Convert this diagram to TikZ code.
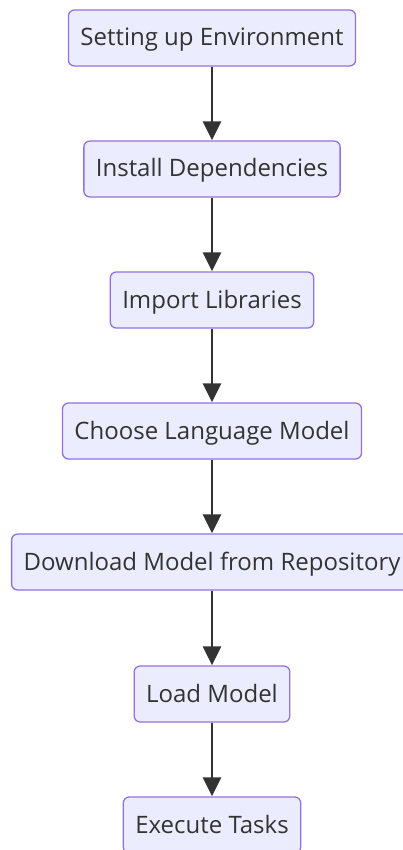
\documentclass[tikz,border=0pt]{standalone}
\usepackage{fontspec}
\setmainfont{Open Sans}
\usetikzlibrary{arrows.meta}
\definecolor{boxfill}{HTML}{ECECFF}
\definecolor{boxline}{HTML}{9370DB}
\definecolor{arrowcol}{HTML}{333333}
\definecolor{textcol}{HTML}{333333}
\tikzset{
  stepbox/.style={draw=boxline, fill=boxfill, line width=1.3pt, rounded corners=6pt,
    minimum height=56pt, inner xsep=12pt, text=textcol, text height=19pt, text depth=3pt,
    font=\fontsize{24}{28}\selectfont},
  flow/.style={draw=arrowcol, line width=2.8pt, -{Triangle[length=19pt,width=18pt]}}
}
\begin{document}
\begin{tikzpicture}[x=1pt,y=-1pt]
\useasboundingbox (0,0) rectangle (403,850);
\node[stepbox] (a) at (212,38) {Setting up Environment};
\node[stepbox] (b) at (212,169) {Install Dependencies};
\node[stepbox] (c) at (212,300) {Import Libraries};
\node[stepbox] (d) at (212,431) {Choose Language Model};
\node[stepbox] (e) at (212,562) {Download Model from Repository};
\node[stepbox] (f) at (212,694) {Load Model};
\node[stepbox] (g) at (212,825) {Execute Tasks};
\draw[flow] (a) -- (b);
\draw[flow] (b) -- (c);
\draw[flow] (c) -- (d);
\draw[flow] (d) -- (e);
\draw[flow] (e) -- (f);
\draw[flow] (f) -- (g);
\end{tikzpicture}
\end{document}
